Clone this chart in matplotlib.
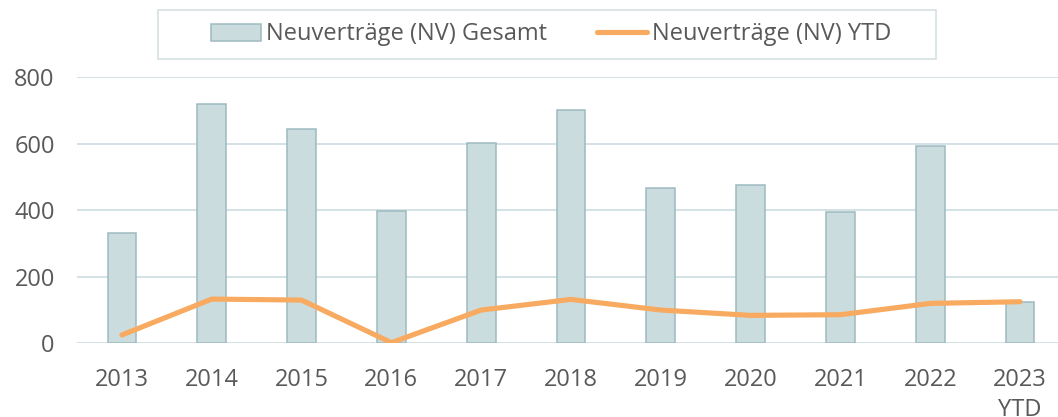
import matplotlib
matplotlib.use("Agg")
import matplotlib.pyplot as plt
from matplotlib.patches import Rectangle
import numpy as np

categories = ["2013", "2014", "2015", "2016", "2017", "2018", "2019", "2020", "2021", "2022", "2023\nYTD"]
nv_gesamt = [333, 720, 644, 397, 601, 702, 467, 476, 394, 594, 125]
nv_ytd = [25, 133, 130, 2, 100, 132, 100, 84, 86, 120, 125]
yticks = [0, 200, 400, 600, 800]

plt.rcParams['font.family'] = ['Open Sans', 'DejaVu Sans']
text_color = "#595959"
W, H = 1058, 417

fig = plt.figure(figsize=(10.58, 4.17), dpi=100)
ax = fig.add_axes([77/W, (H-343.3)/H, 988/W, (343.3-77.3)/H])

x = np.arange(len(categories))
bars = ax.bar(x, nv_gesamt, width=0.32, color="#CBDCDF", edgecolor="#9DBAC0",
              linewidth=1.1, label="Neuverträge (NV) Gesamt", zorder=2)
line, = ax.plot(x, nv_ytd, color="#F7AA60", linewidth=3.7, solid_capstyle="round",
                label="Neuverträge (NV) YTD", zorder=3)

ax.set_xlim(-0.5, len(categories) - 0.5)
ax.set_ylim(0, 800)
ax.set_yticks(yticks)
ax.set_xticks(x)
ax.set_xticklabels(categories, linespacing=1.3)
ax.yaxis.grid(True, color="#D3E2E5", linewidth=1.4, zorder=0)
ax.set_axisbelow(True)
for s in ax.spines.values():
    s.set_visible(False)
ax.tick_params(axis="both", length=0, labelsize=17, colors=text_color)
ax.tick_params(axis="x", pad=18)
ax.tick_params(axis="y", pad=16)

# legend frame (wider than content, as in the reference)
fig.patches.append(Rectangle((158/W, 1 - 59/H), (936-158)/W, (59-10)/H,
                             transform=fig.transFigure, fill=False,
                             edgecolor="#D6E1E3", linewidth=1.2))
leg = fig.legend(handles=[bars, line], labels=["Neuverträge (NV) Gesamt", "Neuverträge (NV) YTD"],
                 loc="center", bbox_to_anchor=(551/W, 1 - 34.5/H), ncol=2,
                 fontsize=17, frameon=False,
                 handlelength=2.15, handletextpad=0.2, columnspacing=2.1,
                 borderpad=0.3, borderaxespad=0)
for t in leg.get_texts():
    t.set_color(text_color)

fig.savefig("out.png", dpi=100)
